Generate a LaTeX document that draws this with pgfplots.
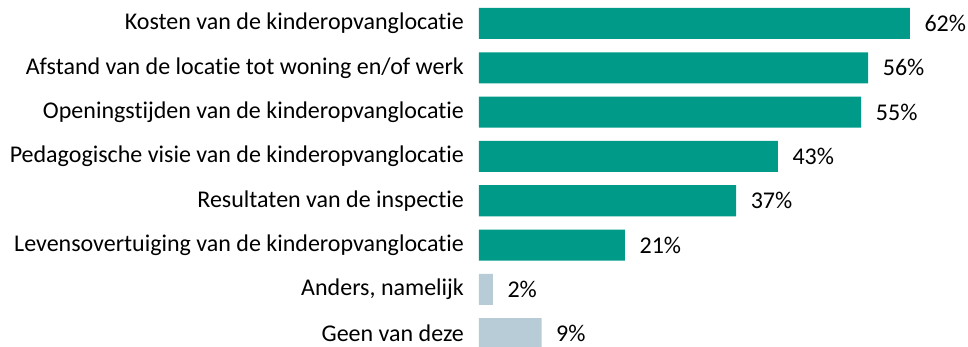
\documentclass[border=0pt]{standalone}
\usepackage{pgfplots}
\pgfplotsset{compat=1.18}
\usepackage{fontspec}
\setmainfont{Carlito}[Ligatures=NoCommon]
\definecolor{teal}{HTML}{009A88}
\definecolor{greyblue}{HTML}{B8CCD8}
\begin{document}
\begin{tikzpicture}[x=0.75pt,y=0.75pt]
\begin{axis}[
  scale only axis,
  width=364.9pt, height=260.25pt,
  xbar, xmin=0, xmax=70,
  ymin=-0.53, ymax=7.30, y dir=reverse,
  bar width=0.7, bar shift=0pt,
  axis line style={draw=none}, tick style={draw=none},
  xticklabels={}, xtick=\empty,
  ytick={0,...,7},
  yticklabels={Kosten van de kinderopvanglocatie,
    Afstand van de locatie tot woning en/of werk,
    Openingstijden van de kinderopvanglocatie,
    Pedagogische visie van de kinderopvanglocatie,
    Resultaten van de inspectie,
    Levensovertuiging van de kinderopvanglocatie,
    {Anders, namelijk},
    Geen van deze},
  yticklabel style={font=\fontsize{18}{21}\selectfont, xshift=-3.5pt},
  /pgf/number format/assume math mode=true,
  nodes near coords={\pgfmathprintnumber{\pgfplotspointmeta}\%},
  nodes near coords style={font=\fontsize{18}{21}\selectfont, anchor=west, xshift=7.5pt},
  point meta=x,
  clip=false,
]
\addplot[fill=teal, draw=none] coordinates {(62,0) (56,1) (55,2) (43,3) (37,4) (21,5)};
\addplot[fill=greyblue, draw=none] coordinates {(2,6) (9,7)};
\coordinate (tl) at (rel axis cs:0,0);
\coordinate (br) at (rel axis cs:1,1);
\end{axis}
\pgfresetboundingbox
\path[use as bounding box] ([xshift=-359.25pt]tl) rectangle ([xshift=1.9pt]br);
\end{tikzpicture}
\end{document}
